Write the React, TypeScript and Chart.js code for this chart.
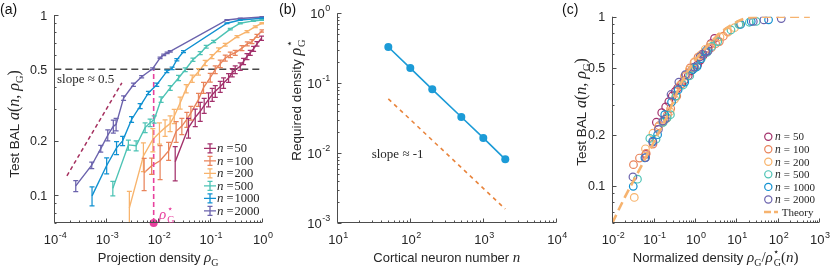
import React, { useEffect, useRef } from 'react';
import { Chart, registerables } from 'chart.js';

Chart.register(...registerables);

const SANS = '"Liberation Sans", Arial, Helvetica, sans-serif';
const SERIF = '"Liberation Serif", "Times New Roman", serif';
const AXIS_COLOR = '#4d4d4d';
const TEXT_COLOR = '#262626';
const MAGENTA = '#e8409e';

// ---------------- data ----------------
const nValues = [50, 100, 200, 500, 1000, 2000];
const nNames = ['50', '100', '200', '500', '1000', '2000'];
const nColors = ['#a3316b', '#e9845b', '#f8b46d', '#4dc3b5', '#1191d1', '#6b63ad'];

const rho50 = [0.0213, 0.0384, 0.0518, 0.0646, 0.077, 0.0933, 0.11, 0.126, 0.157, 0.182, 0.227, 0.267, 0.305, 0.381, 0.442, 0.514, 0.594, 0.689, 0.8, 0.98];
const acc50 = [0.153, 0.237, 0.27, 0.292, 0.314, 0.339, 0.361, 0.377, 0.4, 0.419, 0.447, 0.478, 0.497, 0.518, 0.552, 0.588, 0.617, 0.649, 0.692, 0.743];
const err50 = [0.033, 0.03, 0.03, 0.035, 0.03, 0.03, 0.03, 0.028, 0.028, 0.028, 0.025, 0.025, 0.025, 0.025, 0.022, 0.022, 0.02, 0.02, 0.02, 0.02];

const rho100 = [0.00537, 0.0075, 0.0109, 0.0159, 0.0222, 0.0286, 0.0357, 0.0427, 0.0598, 0.0748, 0.1007, 0.1256, 0.157, 0.196, 0.245, 0.305, 0.411, 0.521, 0.641, 0.8, 1.0];
const acc100 = [0.133, 0.1455, 0.155, 0.176, 0.226, 0.2415, 0.263, 0.286, 0.339, 0.395, 0.449, 0.497, 0.536, 0.576, 0.601, 0.617, 0.655, 0.692, 0.712, 0.766, 0.816];
const err100 = [0.027, 0.015, 0.033, 0.02, 0.03, 0.025, 0.025, 0.025, 0.028, 0.028, 0.025, 0.025, 0.025, 0.022, 0.022, 0.02, 0.02, 0.018, 0.018, 0.015, 0.012];

const rho200 = [0.00279, 0.0052, 0.0079, 0.0106, 0.0136, 0.017, 0.0204, 0.0265, 0.0347, 0.0453, 0.0598, 0.0805, 0.1086, 0.1456, 0.196, 0.33, 0.514, 0.743, 1.0];
const acc200 = [0.085, 0.165, 0.204, 0.222, 0.237, 0.25, 0.274, 0.325, 0.39, 0.443, 0.484, 0.541, 0.588, 0.641, 0.683, 0.759, 0.809, 0.861, 0.9];
const err200 = [0.02, 0.03, 0.03, 0.03, 0.025, 0.025, 0.025, 0.025, 0.02, 0.02, 0.02, 0.018, 0.015, 0.015, 0.012, 0.01, 0.01, 0.01, 0.008];

const rho500 = [0.00134, 0.00267, 0.00377, 0.00561, 0.007, 0.0084, 0.0114, 0.0171, 0.0247, 0.0332, 0.0468, 0.0646, 0.0843, 0.117, 0.245, 0.381, 0.68, 1.0];
const acc500 = [0.109, 0.19, 0.188, 0.237, 0.252, 0.263, 0.339, 0.394, 0.447, 0.497, 0.564, 0.614, 0.666, 0.712, 0.834, 0.9, 0.927, 0.938];
const err500 = [0.01, 0.012, 0.012, 0.015, 0.012, 0.012, 0.012, 0.012, 0.015, 0.012, 0.012, 0.012, 0.012, 0.01, 0.008, 0.006, 0.005, 0.005];

const rho1000 = [5.33e-4, 1.02e-3, 1.58e-3, 2.07e-3, 3.08e-3, 4.5e-3, 6.5e-3, 9.4e-3, 0.0147, 0.0186, 0.0229, 0.0308, 0.211, 0.381, 1.0];
const acc1000 = [0.099, 0.146, 0.183, 0.2, 0.263, 0.312, 0.369, 0.41, 0.486, 0.506, 0.564, 0.627, 0.9, 0.938, 0.959];
const err1000 = [0.012, 0.015, 0.015, 0.012, 0.01, 0.01, 0.008, 0.008, 0.008, 0.008, 0.008, 0.008, 0.005, 0.005, 0.004];

const rho2000 = [2.59e-4, 5.26e-4, 7.85e-4, 1.07e-3, 1.37e-3, 1.55e-3, 2.16e-3, 3.34e-3, 4.81e-3, 7.83e-3, 0.0109, 0.0128, 0.0149, 0.0171, 0.211, 0.381, 1.0];
const acc2000 = [0.1125, 0.1465, 0.181, 0.215, 0.241, 0.247, 0.346, 0.41, 0.454, 0.503, 0.578, 0.601, 0.617, 0.628, 0.938, 0.957, 0.975];
const err2000 = [0.008, 0.006, 0.008, 0.015, 0.02, 0.02, 0.01, 0.008, 0.006, 0.006, 0.006, 0.006, 0.006, 0.006, 0.004, 0.004, 0.004];

const rhoSeries = [rho50, rho100, rho200, rho500, rho1000, rho2000];
const accSeries = [acc50, acc100, acc200, acc500, acc1000, acc2000];
const errSeries = [err50, err100, err200, err500, err1000, err2000];

// required density rho*_G(n) (panel b)
const rhoStar = [0.33, 0.165, 0.082, 0.033, 0.0166, 0.0082];

// guide lines
const slopeAx = [1.75e-4, 2.0e-3];
const slopeAy = [0.128, 0.42];
const slopeBx = [50, 2000];
const slopeBy = [0.06, 0.0016];

// theory curve (panel c)
const theoryX = [0.01, 0.02, 0.05, 0.1, 0.2, 0.5, 1, 2, 4, 8, 15, 30, 60, 600];
const theoryY = [0.06, 0.085, 0.13, 0.18, 0.25, 0.42, 0.55, 0.67, 0.8, 0.9, 0.97, 0.995, 1, 1];

// tick labels
const linTicks = [0.1, 0.2, 0.5, 1];
const linTickNames = ['0.1', '0.2', '0.5', '1'];
const expTicksA = [-4, -3, -2, -1, 0];
const expTicksBx = [1, 2, 3, 4];
const expTicksBy = [-3, -2, -1, 0];
const expTicksC = [-2, -1, 0, 1, 2, 3];

// ---------------- text helpers ----------------
type Seg = { t: string; f: string; dy?: number; dx?: number; c?: string; keep?: boolean };
const sans = (px: number) => `${px}px ${SANS}`;
const serif = (px: number) => `${px}px ${SERIF}`;
const ital = (px: number) => `italic ${px}px ${SERIF}`;

function segWidth(ctx: CanvasRenderingContext2D, segs: Seg[]) {
  let w = 0;
  for (const s of segs) {
    ctx.font = s.f;
    w += s.dx || 0;
    if (!s.keep) w += ctx.measureText(s.t).width;
  }
  return w;
}

function drawRich(ctx: CanvasRenderingContext2D, segs: Seg[], x: number, y: number, align = 'left', color = TEXT_COLOR, rot = 0) {
  ctx.save();
  ctx.translate(x, y);
  if (rot) ctx.rotate(rot);
  ctx.textBaseline = 'alphabetic';
  ctx.textAlign = 'left';
  const w = segWidth(ctx, segs);
  let cx = align === 'center' ? -w / 2 : align === 'right' ? -w : 0;
  for (const s of segs) {
    ctx.font = s.f;
    cx += s.dx || 0;
    ctx.fillStyle = s.c || color;
    ctx.fillText(s.t, cx, s.dy || 0);
    if (!s.keep) cx += ctx.measureText(s.t).width;
  }
  ctx.restore();
}

const pow10 = (e: number): Seg[] => [
  { t: '10', f: sans(13) },
  { t: String(e), f: sans(9), dy: -6.5, dx: 0.5 },
];
const plain = (s: string): Seg[] => [{ t: s, f: sans(12.5) }];

function logGrid(lo: number, hi: number) {
  const out: number[] = [];
  for (let e = Math.floor(Math.log10(lo)); e <= Math.ceil(Math.log10(hi)); e++) {
    for (let k = 1; k <= 9; k++) {
      const v = k * Math.pow(10, e);
      if (v >= lo * 0.999 && v <= hi * 1.001) out.push(v);
    }
  }
  return out;
}

type Major = { v: number; segs: Seg[] };
type Deco = {
  xMajors: Major[];
  yMajors: Major[];
  xTitle: Seg[];
  yTitle: Seg[];
  yTitleX: number;
  yTitleY: number;
  panel: string;
  panelX: number;
  extra?: (ctx: CanvasRenderingContext2D, chart: any) => void;
};

function isMajor(v: number, majors: Major[]) {
  return majors.some((m) => Math.abs(m.v - v) / m.v < 1e-6);
}

function decoPlugin(d: Deco) {
  return {
    id: 'deco',
    afterDatasetsDraw(chart: any) {
      const { ctx, chartArea: a } = chart;
      const ys = chart.scales.y;
      ctx.save();
      ctx.beginPath();
      ctx.rect(a.left, a.top - 2, a.right - a.left + 2, a.bottom - a.top + 2);
      ctx.clip();
      chart.data.datasets.forEach((ds: any, i: number) => {
        if (!ds.errs) return;
        const meta = chart.getDatasetMeta(i);
        ctx.strokeStyle = ds.borderColor;
        ctx.lineWidth = 1.25;
        ds.data.forEach((p: any, j: number) => {
          const e = ds.errs[j];
          const px = meta.data[j].x;
          const y1 = ys.getPixelForValue(p.y + e);
          const y2 = ys.getPixelForValue(Math.max(p.y - e, 1e-6));
          ctx.beginPath();
          ctx.moveTo(px, y1);
          ctx.lineTo(px, y2);
          ctx.moveTo(px - 2.5, y1);
          ctx.lineTo(px + 2.5, y1);
          ctx.moveTo(px - 2.5, y2);
          ctx.lineTo(px + 2.5, y2);
          ctx.stroke();
        });
      });
      ctx.restore();
    },
    afterDraw(chart: any) {
      const { ctx, chartArea: a } = chart;
      const xs = chart.scales.x;
      const ys = chart.scales.y;
      ctx.save();
      ctx.strokeStyle = AXIS_COLOR;
      ctx.lineWidth = 1;
      const L = Math.round(a.left) + 0.5;
      const B = Math.round(a.bottom) - 0.5;
      ctx.beginPath();
      ctx.moveTo(L, a.top);
      ctx.lineTo(L, B);
      ctx.lineTo(a.right, B);
      ctx.stroke();
      ctx.beginPath();
      for (const v of logGrid(xs.min, xs.max)) {
        const p = Math.round(xs.getPixelForValue(v)) + 0.5;
        const len = isMajor(v, d.xMajors) ? 4 : 2;
        ctx.moveTo(p, B);
        ctx.lineTo(p, B - len);
      }
      for (const v of logGrid(ys.min, ys.max)) {
        const p = Math.round(ys.getPixelForValue(v)) + 0.5;
        const len = isMajor(v, d.yMajors) ? 4 : 2;
        ctx.moveTo(L, p);
        ctx.lineTo(L + len, p);
      }
      ctx.stroke();
      ctx.restore();

      for (const m of d.xMajors) {
        drawRich(ctx, m.segs, xs.getPixelForValue(m.v) + 1, a.bottom + 21, 'center');
      }
      for (const m of d.yMajors) {
        drawRich(ctx, m.segs, a.left - 7, ys.getPixelForValue(m.v) + 4.5, 'right');
      }
      drawRich(ctx, d.xTitle, (a.left + a.right) / 2, 262, 'center');
      drawRich(ctx, d.yTitle, d.yTitleX, d.yTitleY, 'center', TEXT_COLOR, -Math.PI / 2);
      drawRich(ctx, [{ t: d.panel, f: sans(14) }], d.panelX, 14, 'left', '#111');
      if (d.extra) d.extra(ctx, chart);
    },
  };
}

const baseOptions = (pad: any, xr: [number, number], yr: [number, number]) => ({
  responsive: false,
  maintainAspectRatio: false,
  animation: false,
  events: [],
  layout: { padding: pad },
  plugins: { legend: { display: false }, tooltip: { enabled: false } },
  scales: {
    x: { type: 'logarithmic', min: xr[0], max: xr[1], display: false },
    y: { type: 'logarithmic', min: yr[0], max: yr[1], display: false },
  },
  elements: { line: { tension: 0 } },
});

const toPts = (xs: number[], ys: number[]) => xs.map((x, i) => ({ x, y: ys[i] }));

const YS = 13.5; // y-title sans size
const YM = 16; // y-title math size
const XS = 13; // x-title sans size
const XM = 15; // x-title math size

const rhoTitle: Seg[] = [
  { t: 'Test BAL ', f: sans(YS) },
  { t: 'a', f: ital(YM) },
  { t: '(', f: serif(YM) },
  { t: 'n', f: ital(YM) },
  { t: ', ', f: serif(YM) },
  { t: 'ρ', f: ital(YM) },
  { t: 'G', f: serif(10.5), dy: 3.5 },
  { t: ')', f: serif(YM) },
];

function configA() {
  const series = rhoSeries.map((r, i) => ({
    type: 'line',
    data: toPts(r, accSeries[i]),
    errs: errSeries[i],
    borderColor: nColors[i],
    borderWidth: 1.4,
    pointRadius: 0,
  }));
  const rs = rhoStar[5];
  const datasets: any[] = [
    { data: [{ x: rs, y: 0.07 }], showLine: false, pointRadius: 4, pointBackgroundColor: MAGENTA, pointBorderWidth: 0, clip: false },
    { data: [{ x: 1e-4, y: 0.5 }, { x: 1, y: 0.5 }], borderColor: '#474747', borderDash: [7, 4], borderWidth: 1.6, pointRadius: 0 },
    { data: [{ x: rs, y: 0.07 }, { x: rs, y: 0.5 }], borderColor: MAGENTA, borderDash: [5, 3], borderWidth: 1.6, pointRadius: 0 },
    ...series.slice().reverse(),
    { data: toPts(slopeAx, slopeAy), borderColor: '#a5305f', borderDash: [4, 3], borderWidth: 1.5, pointRadius: 0 },
  ];
  const deco: Deco = {
    xMajors: expTicksA.map((e) => ({ v: Math.pow(10, e), segs: pow10(e) })),
    yMajors: linTicks.map((v, i) => ({ v, segs: plain(linTickNames[i]) })),
    xTitle: [
      { t: 'Projection density ', f: sans(XS) },
      { t: 'ρ', f: ital(XM) },
      { t: 'G', f: serif(10), dy: 3.5 },
    ],
    yTitle: rhoTitle,
    yTitleX: 19,
    yTitleY: 124,
    panel: '(a)',
    panelX: 0,
    extra: (ctx) => {
      drawRich(ctx, [{ t: 'slope ≈ 0.5', f: serif(13) }], 57, 83);
      drawRich(ctx, [
        { t: 'ρ', f: ital(15) },
        { t: '⋆', f: serif(10), dy: -7.5, dx: 0.5, keep: true },
        { t: 'G', f: serif(10), dy: 3.5, dx: 0.5 },
      ], 159, 219, 'left', MAGENTA);
      nNames.forEach((name, i) => {
        const y = 148.3 + i * 12.5;
        ctx.save();
        ctx.strokeStyle = nColors[i];
        ctx.lineWidth = 1.3;
        ctx.beginPath();
        ctx.moveTo(204, y);
        ctx.lineTo(216, y);
        ctx.moveTo(210, y - 4.5);
        ctx.lineTo(210, y + 4.5);
        ctx.moveTo(207.5, y - 4.5);
        ctx.lineTo(212.5, y - 4.5);
        ctx.moveTo(207.5, y + 4.5);
        ctx.lineTo(212.5, y + 4.5);
        ctx.stroke();
        ctx.restore();
        drawRich(ctx, [
          { t: 'n', f: ital(13) },
          { t: '=', f: serif(12.5), dx: 3 },
          { t: name, f: serif(12.5), dx: 1 },
        ], 217, y + 4);
      });
    },
  };
  return {
    type: 'line',
    data: { datasets },
    options: baseOptions({ left: 54.3, right: 15, top: 15, bottom: 47 }, [1e-4, 1], [0.07, 1]),
    plugins: [decoPlugin(deco)],
  };
}

function configB() {
  const datasets: any[] = [
    {
      data: toPts(nValues, rhoStar),
      borderColor: '#1c9bd7',
      borderWidth: 1.6,
      pointRadius: 4,
      pointBackgroundColor: '#1c9bd7',
      pointBorderWidth: 0,
    },
    { data: toPts(slopeBx, slopeBy), borderColor: '#e8843c', borderDash: [4, 4], borderWidth: 1.6, pointRadius: 0 },
  ];
  const deco: Deco = {
    xMajors: expTicksBx.map((e) => ({ v: Math.pow(10, e), segs: pow10(e) })),
    yMajors: expTicksBy.map((e) => ({ v: Math.pow(10, e), segs: pow10(e) })),
    xTitle: [
      { t: 'Cortical neuron number ', f: sans(XS) },
      { t: 'n', f: ital(XM) },
    ],
    yTitle: [
      { t: 'Required density ', f: sans(YS) },
      { t: 'ρ', f: ital(YM) },
      { t: '⋆', f: serif(10.5), dy: -8, dx: 0.5, keep: true },
      { t: 'G', f: serif(10.5), dy: 3.5, dx: 0.5 },
    ],
    yTitleX: 22,
    yTitleY: 100,
    panel: '(b)',
    panelX: 0,
    extra: (ctx) => {
      drawRich(ctx, [{ t: 'slope ≈ -1', f: serif(13) }], 92.7, 158);
    },
  };
  return {
    type: 'line',
    data: { datasets },
    options: baseOptions({ left: 58.3, right: 13.7, top: 13.3, bottom: 46.7 }, [10, 1e4], [1e-3, 1]),
    plugins: [decoPlugin(deco)],
  };
}

function configC() {
  const scatter = rhoSeries.map((r, i) => ({
    data: r.map((x, j) => ({ x: x / rhoStar[i], y: accSeries[i][j] })),
    showLine: false,
    pointRadius: 3.8,
    pointBorderWidth: 1.2,
    pointBorderColor: nColors[i],
    pointBackgroundColor: 'rgba(0,0,0,0)',
    borderColor: nColors[i],
  }));
  const datasets: any[] = [
    {
      data: toPts(theoryX, theoryY),
      borderColor: '#f6b36f',
      borderDash: [9, 5],
      borderWidth: 2.6,
      pointRadius: 0,
      cubicInterpolationMode: 'monotone',
    },
    ...scatter.slice().reverse(),
  ];
  const deco: Deco = {
    xMajors: expTicksC.map((e) => ({ v: Math.pow(10, e), segs: pow10(e) })),
    yMajors: linTicks.map((v, i) => ({ v, segs: plain(linTickNames[i]) })),
    xTitle: [
      { t: 'Normalized density ', f: sans(XS) },
      { t: 'ρ', f: ital(XM) },
      { t: 'G', f: serif(10), dy: 3.5 },
      { t: '/', f: serif(XM) },
      { t: 'ρ', f: ital(XM) },
      { t: '⋆', f: serif(10), dy: -7.5, dx: 0.5, keep: true },
      { t: 'G', f: serif(10), dy: 3.5, dx: 0.5 },
      { t: '(', f: serif(XM) },
      { t: 'n', f: ital(XM) },
      { t: ')', f: serif(XM) },
    ],
    yTitle: rhoTitle,
    yTitleX: 31,
    yTitleY: 112,
    panel: '(c)',
    panelX: 7,
    extra: (ctx) => {
      nNames.forEach((name, i) => {
        const y = 136.7 + i * 12.55;
        ctx.save();
        ctx.strokeStyle = nColors[i];
        ctx.lineWidth = 1.2;
        ctx.beginPath();
        ctx.arc(213.3, y, 3.6, 0, Math.PI * 2);
        ctx.stroke();
        ctx.restore();
        drawRich(ctx, [
          { t: 'n', f: ital(11.5) },
          { t: '=', f: serif(11), dx: 3 },
          { t: name, f: serif(11), dx: 3 },
        ], 220, y + 3.7);
      });
      const y = 136.7 + 6 * 12.55;
      ctx.save();
      ctx.strokeStyle = '#f6b36f';
      ctx.lineWidth = 2.6;
      ctx.setLineDash([7, 3]);
      ctx.beginPath();
      ctx.moveTo(209, y);
      ctx.lineTo(223, y);
      ctx.stroke();
      ctx.restore();
      drawRich(ctx, [{ t: 'Theory', f: serif(11) }], 226.7, y + 3.7);
    },
  };
  return {
    type: 'line',
    data: { datasets },
    options: baseOptions({ left: 57.3, right: 12, top: 16.7, bottom: 47 }, [0.01, 1000], [0.06, 1]),
    plugins: [decoPlugin(deco)],
  };
}

export default function App() {
  const ra = useRef<HTMLCanvasElement>(null);
  const rb = useRef<HTMLCanvasElement>(null);
  const rc = useRef<HTMLCanvasElement>(null);

  useEffect(() => {
    const charts = [
      new Chart(ra.current as any, configA() as any),
      new Chart(rb.current as any, configB() as any),
      new Chart(rc.current as any, configC() as any),
    ];
    return () => charts.forEach((c) => c.destroy());
  }, []);

  return (
    <div style={{ position: 'absolute', left: 0, top: 0, width: 831, height: 270, background: '#fff', overflow: 'hidden' }}>
      <canvas ref={ra} width={277} height={270} style={{ position: 'absolute', left: 0, top: 0, width: 277, height: 270 }} />
      <canvas ref={rb} width={291} height={270} style={{ position: 'absolute', left: 279, top: 0, width: 291, height: 270 }} />
      <canvas ref={rc} width={276} height={270} style={{ position: 'absolute', left: 555, top: 0, width: 276, height: 270 }} />
    </div>
  );
}
